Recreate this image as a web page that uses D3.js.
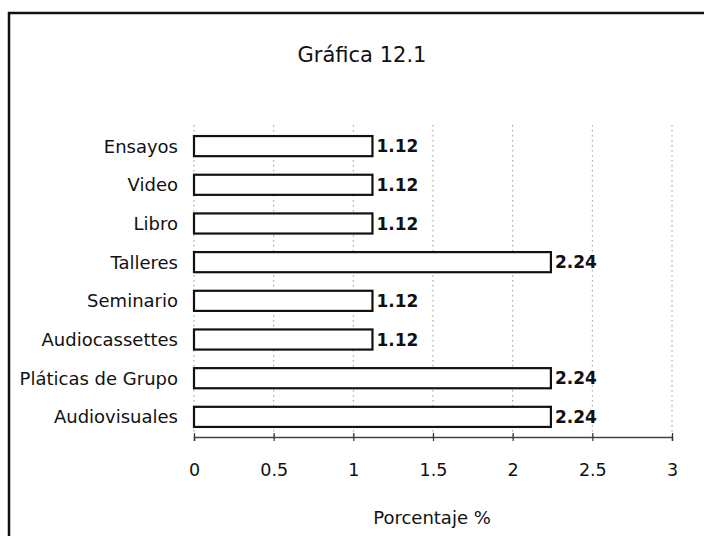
<!DOCTYPE html>
<html><head><meta charset="utf-8">
<script src="https://cdn.jsdelivr.net/npm/d3@7"></script>
<style>html,body{margin:0;padding:0;background:#fff;}svg{display:block;}</style>
</head><body>
<svg id="c" width="704" height="536"></svg>
<script>
const categories = ["Ensayos","Video","Libro","Talleres","Seminario","Audiocassettes","Pláticas de Grupo","Audiovisuales"];
const values = [1.12,1.12,1.12,2.24,1.12,1.12,2.24,2.24];
const xTicks = [0,0.5,1,1.5,2,2.5,3];
const title = "Gráfica 12.1";
const xTitle = "Porcentaje %";

const FONT = "'DejaVu Sans', sans-serif";
const svg = d3.select("#c");
svg.append("rect").attr("x",9).attr("y",13).attr("width",710).attr("height",540)
  .attr("fill","#fff").attr("stroke","#111").attr("stroke-width",2.5);

const x = d3.scaleLinear().domain([0,3]).range([194,672]);
const y = d3.scaleBand().domain(categories).range([126,437]).paddingInner(0.48).paddingOuter(0.26);

// gridlines
svg.append("g").selectAll("line").data(xTicks).join("line")
  .attr("x1",d=>x(d)).attr("x2",d=>x(d)).attr("y1",125).attr("y2",437)
  .attr("stroke","#999").attr("stroke-width",1).attr("stroke-dasharray","1.5,3.5");

// axis
const ax = svg.append("g").attr("transform","translate(0,437)")
  .call(d3.axisBottom(x).tickValues(xTicks).tickSize(4).tickPadding(23).tickFormat(d=>String(d)));
ax.select(".domain").attr("stroke","#444").attr("stroke-width",1.5);
ax.selectAll(".tick line").attr("y1",-4).attr("y2",4).attr("stroke","#333").attr("stroke-width",1.2);
ax.selectAll(".tick text").attr("font-family",FONT).attr("font-size",17.5).attr("fill","#111");

// bars
svg.append("g").selectAll("rect").data(categories).join("rect")
  .attr("x",x(0)).attr("y",d=>y(d)).attr("width",(d,i)=>x(values[i])-x(0)).attr("height",y.bandwidth())
  .attr("fill","#fff").attr("stroke","#111").attr("stroke-width",2.2);

// value labels
svg.append("g").selectAll("text").data(categories).join("text")
  .attr("x",(d,i)=>x(values[i])+4).attr("y",d=>y(d)+y.bandwidth()/2).attr("dy","0.36em")
  .attr("font-family",FONT).attr("font-weight","bold").attr("font-size",17).attr("fill","#111")
  .text((d,i)=>values[i].toFixed(2));

// category labels
svg.append("g").selectAll("text").data(categories).join("text")
  .attr("x",178).attr("y",d=>y(d)+y.bandwidth()/2).attr("dy","0.36em").attr("text-anchor","end")
  .attr("font-family",FONT).attr("font-size",18).attr("fill","#111").text(d=>d);

svg.append("text").attr("x",362).attr("y",62).attr("text-anchor","middle")
  .attr("font-family",FONT).attr("font-size",21).attr("fill","#111").text(title);
svg.append("text").attr("x",432).attr("y",524).attr("text-anchor","middle")
  .attr("font-family",FONT).attr("font-size",18).attr("fill","#111").text(xTitle);
</script>
</body></html>
